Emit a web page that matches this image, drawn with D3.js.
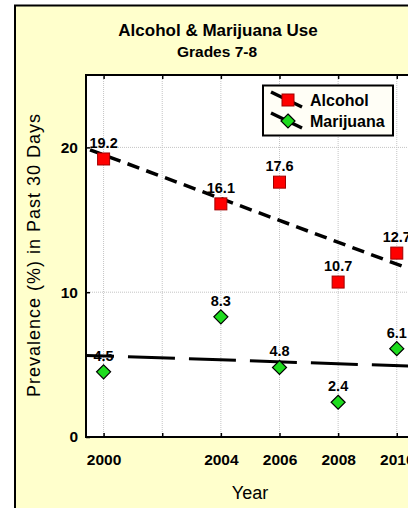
<!DOCTYPE html>
<html>
<head>
<meta charset="utf-8">
<script src="https://cdn.jsdelivr.net/npm/d3@7"></script>
<style>
  html, body { margin: 0; padding: 0; background: #fff; }
  svg { display: block; font-family: Arial, 'Liberation Sans', sans-serif; }
</style>
</head>
<body>
<div id="chart"></div>
<script>
const years = [2000, 2004, 2006, 2008, 2010]
const alcohol = [19.2, 16.1, 17.6, 10.7, 12.7]
const marijuana = [4.5, 8.3, 4.8, 2.4, 6.1]
const xTicks = [2000, 2002, 2004, 2006, 2008, 2010]
const xTickLabels = ['2000', '', '2004', '2006', '2008', '2010']
const yTicks = [0, 10, 20]

const width = 408
const height = 508
const plot = { left: 86, top: 75, bottom: 437, right: 473 }

const svg = d3.select('#chart').append('svg').attr('width', width).attr('height', height)

// outer yellow frame (cropped on the right / bottom)
svg.append('rect')
  .attr('x', 15).attr('y', 5.5)
  .attr('width', 600).attr('height', 700)
  .attr('fill', '#ffffcc').attr('stroke', '#000').attr('stroke-width', 2)

const x = d3.scaleLinear().domain([1999.4, 2012.6]).range([plot.left, plot.right])
const y = d3.scaleLinear().domain([0, 25]).range([plot.bottom, plot.top])

svg.append('defs').append('clipPath').attr('id', 'plotclip')
  .append('rect')
  .attr('x', plot.left).attr('y', plot.top)
  .attr('width', plot.right - plot.left).attr('height', plot.bottom - plot.top)

svg.append('rect')
  .attr('x', plot.left).attr('y', plot.top)
  .attr('width', plot.right - plot.left).attr('height', plot.bottom - plot.top)
  .attr('fill', '#fff')

// dotted grid
const grid = svg.append('g').attr('stroke', '#c4c4c4').attr('stroke-width', 1).attr('stroke-dasharray', '1,1')
grid.selectAll('.vx').data(xTicks).enter().append('line')
  .attr('x1', d => x(d)).attr('x2', d => x(d))
  .attr('y1', plot.top).attr('y2', plot.bottom)
grid.selectAll('.hy').data(yTicks.filter(d => d > 0)).enter().append('line')
  .attr('x1', plot.left).attr('x2', plot.right)
  .attr('y1', d => y(d)).attr('y2', d => y(d))

// least squares trend line
const fit = vals => {
  const mx = d3.mean(years), my = d3.mean(vals)
  const sxy = d3.sum(years, (t, i) => (t - mx) * (vals[i] - my))
  const sxx = d3.sum(years, t => (t - mx) * (t - mx))
  const b = sxy / sxx
  return t => my + b * (t - mx)
}
const line = d3.line().x(d => x(d[0])).y(d => y(d[1]))
const trends = [
  { vals: alcohol, dash: '12.5,7.5', offset: 15.7, w: 3.5 },
  { vals: marijuana, dash: '47,14', offset: 19, w: 3 }
]
const tg = svg.append('g').attr('clip-path', 'url(#plotclip)')
trends.forEach(t => {
  const f = fit(t.vals)
  const dom = x.domain()
  tg.append('path')
    .attr('d', line(dom.map(v => [v, f(v)])))
    .attr('fill', 'none')
    .attr('stroke', '#000')
    .attr('stroke-width', t.w)
    .attr('stroke-dasharray', t.dash)
    .attr('stroke-dashoffset', t.offset)
})

// axes
const fmtX = (d, i) => xTickLabels[i]
const xAxis = svg.append('g').attr('transform', `translate(0,${plot.bottom})`)
  .call(d3.axisBottom(x).tickValues(xTicks).tickFormat(fmtX).tickSizeInner(-4).tickSizeOuter(0).tickPadding(17))
const topAxis = svg.append('g').attr('transform', `translate(0,${plot.top})`)
  .call(d3.axisTop(x).tickValues(xTicks).tickFormat('').tickSizeInner(-4).tickSizeOuter(0))
const yAxis = svg.append('g').attr('transform', `translate(${plot.left},0)`)
  .call(d3.axisLeft(y).tickValues(yTicks).tickSizeInner(-4).tickSizeOuter(0).tickPadding(8))

;[xAxis, topAxis, yAxis].forEach(a => {
  a.select('.domain').remove()
  a.selectAll('.tick line').attr('stroke', '#000').attr('stroke-width', 1.5)
  a.selectAll('.tick text')
    .attr('fill', '#000')
    .style('font-family', 'Arial, "Liberation Sans", sans-serif')
    .style('font-weight', 'bold')
    .style('font-size', '15.5px')
})

// plot border
svg.append('rect')
  .attr('x', plot.left).attr('y', plot.top)
  .attr('width', plot.right - plot.left).attr('height', plot.bottom - plot.top)
  .attr('fill', 'none').attr('stroke', '#000').attr('stroke-width', 2)

// markers
const sq = 12, dm = 7
const marks = svg.append('g')
marks.selectAll('.alc').data(years).enter().append('rect')
  .attr('x', (d, i) => x(d) - sq / 2).attr('y', (d, i) => y(alcohol[i]) - sq / 2)
  .attr('width', sq).attr('height', sq)
  .attr('fill', '#ff0000').attr('stroke', '#a00000').attr('stroke-width', 1)
marks.selectAll('.mar').data(years).enter().append('path')
  .attr('d', (d, i) => {
    const cx = x(d), cy = y(marijuana[i])
    return `M${cx},${cy - dm}L${cx + dm},${cy}L${cx},${cy + dm}L${cx - dm},${cy}Z`
  })
  .attr('fill', '#1edc1e').attr('stroke', '#000').attr('stroke-width', 1.2)

// value labels
const lab = svg.append('g')
  .style('font-size', '14.5px').style('font-weight', 'bold').attr('text-anchor', 'middle')
lab.selectAll('.la').data(years).enter().append('text')
  .attr('x', d => x(d)).attr('y', (d, i) => y(alcohol[i]) - 11)
  .text((d, i) => alcohol[i].toFixed(1))
lab.selectAll('.lm').data(years).enter().append('text')
  .attr('x', d => x(d)).attr('y', (d, i) => y(marijuana[i]) - 11)
  .text((d, i) => marijuana[i].toFixed(1))

// titles
svg.append('text').attr('x', 218).attr('y', 36).attr('text-anchor', 'middle')
  .style('font-size', '17px').style('font-weight', 'bold').text('Alcohol & Marijuana Use')
svg.append('text').attr('x', 217).attr('y', 57).attr('text-anchor', 'middle')
  .style('font-size', '15.5px').style('font-weight', 'bold').text('Grades 7-8')

svg.append('text')
  .attr('transform', 'translate(40,255) rotate(-90)')
  .attr('text-anchor', 'middle')
  .style('font-size', '18px').style('letter-spacing', '1px')
  .text('Prevalence (%) in Past 30 Days')

svg.append('text').attr('x', 250).attr('y', 499).attr('text-anchor', 'middle')
  .style('font-size', '18px').text('Year')

// legend
const lg = svg.append('g')
lg.append('rect').attr('x', 263).attr('y', 85.5).attr('width', 130).attr('height', 50)
  .attr('fill', '#fffef6').attr('stroke', '#000').attr('stroke-width', 2)
const legendItems = [
  { name: 'Alcohol', cy: 100, kind: 'sq' },
  { name: 'Marijuana', cy: 121, kind: 'dm' }
]
legendItems.forEach(it => {
  lg.append('line')
    .attr('x1', 271).attr('y1', it.cy - 8).attr('x2', 302).attr('y2', it.cy + 7)
    .attr('stroke', '#000').attr('stroke-width', 3.5)
  if (it.kind === 'sq') {
    lg.append('rect').attr('x', 288 - sq / 2).attr('y', it.cy - sq / 2).attr('width', sq).attr('height', sq)
      .attr('fill', '#ff0000').attr('stroke', '#a00000').attr('stroke-width', 1)
  } else {
    lg.append('path')
      .attr('d', `M288,${it.cy - dm}L${288 + dm},${it.cy}L288,${it.cy + dm}L${288 - dm},${it.cy}Z`)
      .attr('fill', '#1edc1e').attr('stroke', '#000').attr('stroke-width', 1.2)
  }
  lg.append('text').attr('x', 310).attr('y', it.cy + 6)
    .style('font-size', '16px').style('font-weight', 'bold').text(it.name)
})
</script>
</body>
</html>
